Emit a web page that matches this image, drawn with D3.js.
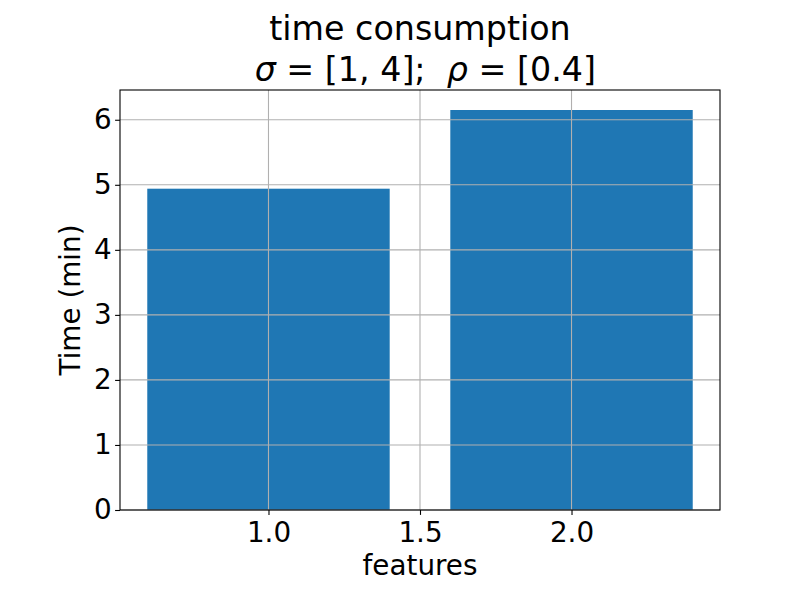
<!DOCTYPE html>
<html>
<head>
<meta charset="utf-8">
<script src="https://cdn.jsdelivr.net/npm/d3@7"></script>
<style>
  body { margin: 0; background: #fff; }
  text { font-family: "DejaVu Sans", sans-serif; fill: #000; white-space: pre; }
</style>
</head>
<body>
<div id="chart"></div>
<script>
const categories = [1, 2];
const times = [4.94, 6.15];
const xTicks = [1.0, 1.5, 2.0];
const yTicks = [0, 1, 2, 3, 4, 5, 6];
const barWidth = 0.8;

const width = 800, height = 600;
const margin = { top: 90, right: 80, bottom: 90, left: 120 };
const innerW = width - margin.left - margin.right;
const innerH = height - margin.top - margin.bottom;
const fs = 27.8;     // 20pt
const titleFs = 33.3; // 24pt

const svg = d3.select("#chart").append("svg")
    .attr("width", width)
    .attr("height", height);

// matplotlib-ish 5% margins
const xmin = d3.min(categories) - barWidth / 2, xmax = d3.max(categories) + barWidth / 2;
const xpad = (xmax - xmin) * 0.05;
const x = d3.scaleLinear().domain([xmin - xpad, xmax + xpad]).range([0, innerW]);
const y = d3.scaleLinear().domain([0, d3.max(times) * 1.05]).range([innerH, 0]);

const g = svg.append("g").attr("transform", `translate(${margin.left},${margin.top})`);

// bars
g.selectAll("rect.bar")
    .data(categories)
    .enter()
    .append("rect")
    .attr("class", "bar")
    .attr("x", (d) => x(d - barWidth / 2))
    .attr("width", (d) => x(d + barWidth / 2) - x(d - barWidth / 2))
    .attr("y", (d, i) => y(times[i]))
    .attr("height", (d, i) => y(0) - y(times[i]))
    .attr("fill", "#1f77b4");

// grid on top of bars
const grid = g.append("g").attr("stroke", "#b0b0b0").attr("stroke-width", 1.1);
grid.selectAll("line.gx")
    .data(xTicks)
    .enter()
    .append("line")
    .attr("x1", d => x(d)).attr("x2", d => x(d))
    .attr("y1", 0).attr("y2", innerH);
grid.selectAll("line.gy")
    .data(yTicks)
    .enter()
    .append("line")
    .attr("y1", d => y(d)).attr("y2", d => y(d))
    .attr("x1", 0).attr("x2", innerW);

// axes
const xAxis = g.append("g")
    .attr("transform", `translate(0,${innerH})`)
    .call(d3.axisBottom(x).tickValues(xTicks).tickFormat(d3.format(".1f")).tickSizeOuter(0).tickSize(4.9).tickPadding(7));
const yAxis = g.append("g")
    .call(d3.axisLeft(y).tickValues(yTicks).tickFormat(d3.format("d")).tickSizeOuter(0).tickSize(4.9).tickPadding(3.5));

[xAxis, yAxis].forEach(ax => {
    ax.select(".domain").remove();
    ax.selectAll("line").attr("stroke", "#000").attr("stroke-width", 1.1);
    ax.selectAll("text").attr("font-size", fs).attr("font-family", "DejaVu Sans").attr("fill", "#000");
});

// frame
g.append("rect")
    .attr("width", innerW).attr("height", innerH)
    .attr("fill", "none").attr("stroke", "#000").attr("stroke-width", 1.1);

// labels
svg.append("text")
    .attr("x", margin.left + innerW / 2)
    .attr("y", 575)
    .attr("text-anchor", "middle")
    .attr("font-size", fs)
    .text("features");

svg.append("text")
    .attr("transform", `translate(80,${margin.top + innerH / 2}) rotate(-90)`)
    .attr("text-anchor", "middle")
    .attr("font-size", fs)
    .text("Time (min)");

// title
const cx = margin.left + innerW / 2;
const title = svg.append("text")
    .attr("text-anchor", "middle")
    .attr("font-size", titleFs);
title.append("tspan").attr("x", cx).attr("y", 40).text("time consumption");
const line2 = title.append("tspan").attr("x", cx).attr("y", 81);
line2.append("tspan").text(" ");
line2.append("tspan").attr("font-style", "italic").text("σ");
line2.append("tspan").text(" = [1, 4];  ");
line2.append("tspan").attr("font-style", "italic").text("ρ");
line2.append("tspan").text(" = [0.4]");
</script>
</body>
</html>
